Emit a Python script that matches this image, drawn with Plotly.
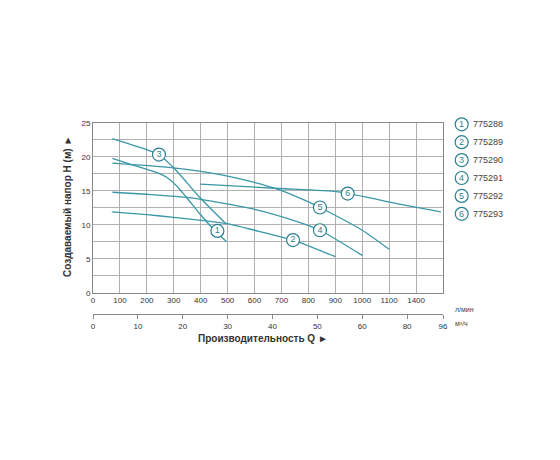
import plotly.graph_objects as go

# pump curves, Q in chart units (l/min grid), H in metres
q1 = [72, 149, 222, 272, 309, 346, 395, 444, 496]
h1 = [19.8, 18.8, 17.9, 17.05, 15.8, 14.1, 11.7, 9.5, 7.5]
q2 = [70, 200, 300, 493, 600, 743, 900]
h2 = [11.9, 11.5, 11.1, 10.2, 9.2, 7.75, 5.3]
q3 = [72, 150, 245, 309, 395, 495]
h3 = [22.7, 21.7, 20.35, 18.0, 14.1, 10.1]
q4 = [72, 200, 358, 604, 764, 843, 1000]
h4 = [14.8, 14.5, 14.0, 12.25, 10.4, 9.2, 5.5]
q5 = [72, 272, 395, 542, 690, 788, 843, 1000, 1100]
h5 = [19.1, 18.5, 17.9, 16.8, 15.2, 13.6, 12.55, 9.2, 6.4]
q6 = [398, 690, 911, 1133, 1292]
h6 = [16.0, 15.35, 14.85, 13.1, 11.9]

models = ["775288", "775289", "775290", "775291", "775292", "775293"]
label_q = [462, 743, 245, 843, 843, 946]
label_h = [9.1, 7.75, 20.35, 9.2, 12.55, 14.6]

lpm_vals = [0, 100, 200, 300, 400, 500, 600, 700, 800, 900, 1000, 1100, 1200]
lpm_text = ["0", "100", "200", "300", "400", "500", "600", "700", "800", "900", "1000", "1100", "1400"]
m3h_vals = [0, 166.7, 333.3, 500, 666.7, 833.3, 1000, 1166.7, 1300]
m3h_text = ["0", "10", "20", "30", "40", "50", "60", "80", "96"]

TEAL = "#3a97a8"
DARK = "#2a7f8f"
GRID = "#b0b0b0"
FONT = "Liberation Sans"
OFF = 8  # page body margin


def px(xp):
    return (xp - 93) / 350


def py(yp):
    return (314 - yp) / 191


def note(x, y, text, size, color, xanchor="center", angle=0):
    fig.add_annotation(xref="paper", yref="paper", x=x, y=y, text=text, showarrow=False,
                       xanchor=xanchor, yanchor="middle", textangle=angle,
                       font=dict(family=FONT, size=size, color=color))


fig = go.Figure()
for q, h in [(q1, h1), (q2, h2), (q3, h3), (q4, h4), (q5, h5), (q6, h6)]:
    fig.add_trace(go.Scatter(x=q, y=h, mode="lines", line=dict(color=TEAL, width=1.3, shape="spline", smoothing=0.6),
                             hoverinfo="skip", showlegend=False))

fig.add_trace(go.Scatter(
    x=label_q, y=label_h, mode="markers+text",
    text=[str(i + 1) for i in range(6)], textposition="middle center",
    textfont=dict(family=FONT, size=9, color=DARK),
    marker=dict(size=13, color="white", line=dict(color=DARK, width=1.2)),
    showlegend=False, hoverinfo="skip"))

# legend on the right, drawn by hand
for i, m in enumerate(models):
    yp = py(124.3 + i * 17.9)
    fig.add_shape(type="circle", xref="paper", yref="paper", xsizemode="pixel", ysizemode="pixel",
                  xanchor=px(461.7), yanchor=yp, x0=-6.5, x1=6.5, y0=-6.5, y1=6.5,
                  line=dict(color=DARK, width=1.2), fillcolor="rgba(0,0,0,0)")
    note(px(461.7), yp, str(i + 1), 9, DARK)
    note(px(471), yp, m, 9, "#444", xanchor="left")

note(px(453), py(309), "л/мин", 7, "#444", xanchor="left")
note(px(453), py(323), "м³/ч", 7, "#444", xanchor="left")
note(px(263), py(338), "<b>Производительность Q ►</b>", 10, "#333")
note(px(67), py(207), "<b>Создаваемый напор H (м) ►</b>", 10, "#333", angle=-90)

fig.update_layout(
    width=560, height=460,
    margin=dict(l=93 - OFF, r=560 - 443 + OFF, t=123 - OFF, b=460 - 314 + OFF),
    paper_bgcolor="white", plot_bgcolor="white",
    font=dict(family=FONT, size=8, color="#333"),
    xaxis=dict(range=[0, 1300], tickvals=lpm_vals, ticktext=lpm_text, showgrid=True, gridcolor=GRID,
               gridwidth=1, showline=True, linecolor="#888", mirror=True, zeroline=False, ticks="",
               anchor="y", automargin=False),
    xaxis2=dict(range=[0, 1300], tickvals=m3h_vals, ticktext=m3h_text, overlaying="x", anchor="free",
                position=0, side="bottom", showgrid=False, showline=True, linecolor="#888",
                ticks="outside", ticklen=4, tickcolor="#888", zeroline=False, automargin=False),
    yaxis=dict(range=[0, 25], domain=[21.3 / 191, 1], dtick=5, showgrid=True, gridcolor=GRID,
               minor=dict(dtick=2.5, showgrid=True, gridcolor=GRID), showline=True, linecolor="#888",
               mirror=True, zeroline=False, ticks="", automargin=False),
)
# invisible trace so the second axis is drawn
fig.add_trace(go.Scatter(x=[0], y=[0], xaxis="x2", mode="markers", marker=dict(opacity=0),
                         showlegend=False, hoverinfo="skip"))

fig.write_html("out.html")
